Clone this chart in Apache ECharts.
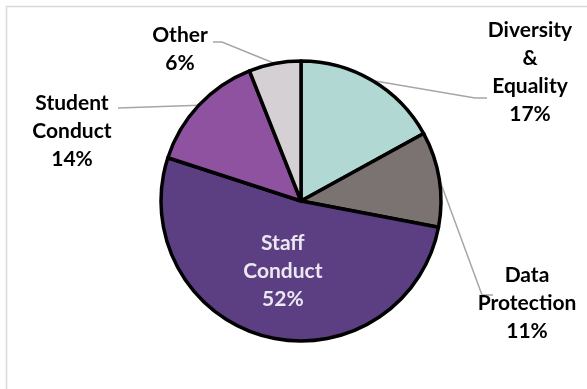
<!DOCTYPE html>
<html>
<head>
<meta charset="utf-8">
<script src="https://cdn.jsdelivr.net/npm/echarts@6/dist/echarts.min.js"></script>
<style>
  html, body { margin: 0; padding: 0; background: #ffffff; }
  #chart { width: 587px; height: 389px; }
</style>
</head>
<body>
<div id="chart"></div>
<script>
// Categories of reported cases and their share of the total (%)
const categories = ['Diversity\n&\nEquality', 'Data\nProtection', 'Staff\nConduct', 'Student\nConduct', 'Other'];
const shares = [17, 11, 52, 14, 6];
const sliceColors = ['#b2d8d4', '#7a7371', '#5c3e82', '#8e52a0', '#d4d0d4'];

// Where each outside label block sits, and the elbow / end of its leader line
const labelSpots = [[530, 72], [527, 303], null, [72, 131], [180, 49]];
const leaderTails = [
  [[475, 98], [487, 98]],
  [[482, 295], [493, 295]],
  null,
  [[118, 108], [118, 108]],
  [[222, 42], [213, 42]]
];

const chart = echarts.init(document.getElementById('chart'), null, { renderer: 'canvas' });

const pieData = categories.map((name, i) => {
  const item = { name: name, value: shares[i], itemStyle: { color: sliceColors[i] } };
  if (i === 2) {
    item.label = { position: 'inside', color: '#ece8f1' };
    item.labelLine = { show: false };
  }
  return item;
});

chart.setOption({
  backgroundColor: '#ffffff',
  animation: false,
  graphic: [{
    type: 'rect',
    shape: { x: 6.5, y: 6.5, width: 620, height: 420 },
    style: { fill: 'none', stroke: '#d9d9d9', lineWidth: 1.5 },
    silent: true,
    z: -10
  }],
  series: [{
    type: 'pie',
    center: [301, 201],
    radius: ['0%', 140],
    startAngle: 90,
    clockwise: true,
    data: pieData,
    itemStyle: { borderColor: '#000000', borderWidth: 3.5 },
    label: {
      show: true,
      position: 'outside',
      formatter: '{b}\n{c}%',
      fontFamily: 'Lato',
      fontWeight: 'bold',
      fontSize: 21,
      lineHeight: 28,
      color: '#000000',
      align: 'center',
      overflow: 'none'
    },
    labelLine: {
      show: true,
      lineStyle: { color: '#a6a6a6', width: 1.5 }
    },
    labelLayout: function (params) {
      const i = params.dataIndex;
      if (!labelSpots[i]) return {};
      const start = params.labelLinePoints ? params.labelLinePoints[0] : leaderTails[i][0];
      return {
        x: labelSpots[i][0],
        y: labelSpots[i][1],
        align: 'center',
        verticalAlign: 'middle',
        labelLinePoints: [start, leaderTails[i][0], leaderTails[i][1]]
      };
    },
    emphasis: { disabled: true }
  }]
});
</script>
</body>
</html>
